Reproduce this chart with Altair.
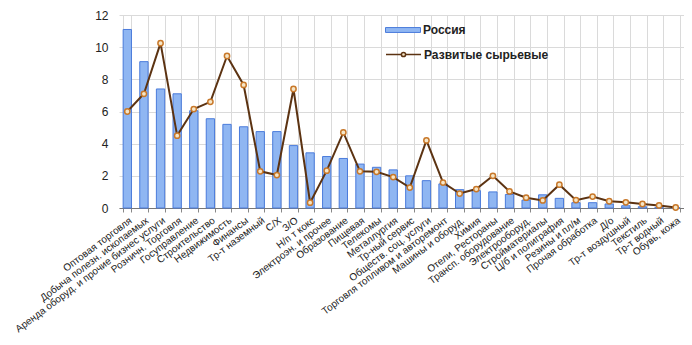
import altair as alt
import pandas as pd

categories = [
    "Оптовая торговля", "Добыча полезн. ископаемых", "Аренда оборуд. и прочие бизнес услуги",
    "Розничн. Торговля", "Госуправление", "Строительство", "Недвижимость", "Финансы",
    "Тр-т наземный", "С/Х", "З/О", "Н/п т кокс", "Электроэн. и прочее", "Образование",
    "Пищевая", "Телекомы", "Металлургия", "Тр-ный сервис", "Обществ. соц. услуги",
    "Торговля топливом и авторемонт", "Машины и оборуд.", "Химия", "Отели, Рестораны",
    "Трансп. оборудование", "Электрооборуд.", "Стройматериалы", "Ц/б и полиграфия",
    "Резины и пл/м", "Прочая обработка", "Д/о", "Тр-т воздушный", "Текстиль",
    "Тр-т водный", "Обувь, кожа",
]
russia = [11.1, 9.1, 7.4, 7.1, 6.05, 5.55, 5.2, 5.05, 4.75, 4.75, 3.88, 3.43, 3.2, 3.08,
          2.73, 2.53, 2.37, 2.0, 1.7, 1.5, 1.14, 1.08, 1.0, 0.84, 0.49, 0.82, 0.6, 0.33,
          0.33, 0.25, 0.14, 0.08, 0.04, 0.02]
developed = [6.0, 7.1, 10.25, 4.5, 6.15, 6.6, 9.45, 7.65, 2.28, 2.05, 7.4, 0.33, 2.32, 4.7,
             2.28, 2.25, 1.92, 1.27, 4.2, 1.58, 0.9, 1.18, 2.0, 1.03, 0.64, 0.47, 1.45, 0.49,
             0.71, 0.42, 0.35, 0.25, 0.16, 0.03]
series_names = ["Россия", "Развитые сырьевые"]
y_ticks = [0, 2, 4, 6, 8, 10, 12]

df = pd.DataFrame({"cat": categories, "russia": russia, "developed": developed})
df["s1"] = series_names[0]
df["s2"] = series_names[1]

FONT = "Liberation Sans"
GRID = "#dadada"

x_axis = alt.Axis(labelAngle=-37, labelFontSize=10, labelColor="#222", labelFont=FONT,
                  tickBand="extent", grid=True, gridColor=GRID,
                  tickSize=4, tickColor="#888", domainColor="#777", labelPadding=3,
                  labelOverlap=False, labelLimit=400)
y_axis = alt.Axis(values=y_ticks, labelFontSize=12, labelColor="#222", labelFont=FONT,
                  ticks=False, domain=False, labelPadding=11, labelOverlap=False,
                  grid=True, gridColor=GRID)
x_scale = alt.Scale(paddingInner=0.5, paddingOuter=0.25)
y_scale = alt.Scale(domain=[0, 12], nice=False)


def X():
    return alt.X("cat:N", sort=categories, title=None, scale=x_scale, axis=x_axis)


def Y(field):
    return alt.Y(field, type="quantitative", scale=y_scale, title=None, axis=y_axis)


bars = alt.Chart(df).mark_bar(stroke="#4A7BDB", strokeWidth=1).encode(
    x=X(),
    y=Y("russia"),
    fill=alt.Fill("s1:N", scale=alt.Scale(domain=[series_names[0]], range=["#8FB6F2"]),
                  legend=alt.Legend(orient="none", legendX=266, legendY=-3, title=None,
                                    symbolType="M-1,-0.14H1V0.14H-1Z", symbolSize=1225,
                                    symbolStrokeColor="#4A7BDB", symbolStrokeWidth=1,
                                    labelFontSize=12, labelFont=FONT, labelFontWeight="bold",
                                    labelColor="#222", labelOffset=2, padding=0)),
)

line = alt.Chart(df).mark_line(strokeWidth=2).encode(
    x=X(),
    y=Y("developed"),
    stroke=alt.Stroke("s2:N", scale=alt.Scale(domain=[series_names[1]], range=["#5C3312"]),
                      legend=alt.Legend(orient="none", legendX=266, legendY=21, title=None,
                                        symbolType="M-1,0H-0.12M0.12,0H1M0.12,0A0.12,0.12 0 1,1 -0.12,0A0.12,0.12 0 1,1 0.12,0",
                                        symbolSize=1225, symbolStrokeWidth=1.5,
                                        symbolFillColor="#f5e6c8",
                                        labelFontSize=12, labelFont=FONT, labelFontWeight="bold",
                                        labelColor="#222", labelOffset=2, padding=0)),
)

points = alt.Chart(df).mark_point(filled=True, fill="#f5e6c8", stroke="#C8782A",
                                  strokeWidth=1.5, size=28, opacity=1).encode(
    x=X(),
    y=Y("developed"),
)

chart = alt.layer(bars, line, points).resolve_scale(fill="independent", stroke="independent").properties(
    width=565, height=193,
    autosize=alt.AutoSizeParams(type="none"),
    padding={"left": 111, "top": 7, "right": 0, "bottom": 125},
).configure_view(stroke=None)

chart.save("out.html", embed_options={"renderer": "svg", "actions": False})
